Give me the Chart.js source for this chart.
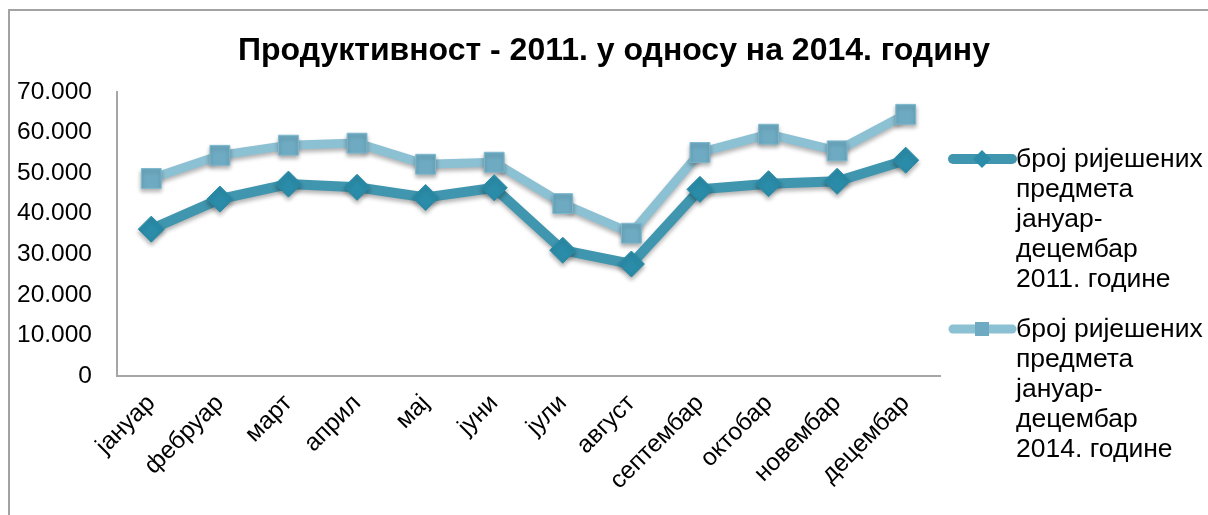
<!DOCTYPE html>
<html>
<head>
<meta charset="utf-8">
<script src="https://cdn.jsdelivr.net/npm/chart.js@4/dist/chart.umd.min.js"></script>
<style>
  html, body { margin: 0; padding: 0; background: #ffffff; }
  #wrap { position: relative; width: 1208px; height: 515px; }
  canvas { display: block; }
</style>
</head>
<body>
<div id="wrap"><canvas id="c" width="1208" height="515"></canvas></div>
<script>
const categories = ['јануар', 'фебруар', 'март', 'април', 'мај', 'јуни', 'јули', 'август', 'септембар', 'октобар', 'новембар', 'децембар'];
const series2011 = [36200, 43600, 47300, 46500, 44000, 46400, 31000, 27600, 46000, 47400, 48000, 53200];
const series2014 = [48700, 54400, 56900, 57400, 52200, 52700, 42500, 35200, 55100, 59600, 55500, 64500];
const legend2011 = ['број ријешених', 'предмета', 'јануар-', 'децембар', '2011. године'];
const legend2014 = ['број ријешених', 'предмета', 'јануар-', 'децембар', '2014. године'];
const titleText = 'Продуктивност - 2011. у односу на 2014. годину';
const yTicks = [0, 10000, 20000, 30000, 40000, 50000, 60000, 70000];

const FONT = "'Liberation Sans', Arial, sans-serif";
const TICK_SIZE = 24.5;
const LEGEND_SIZE = 26.5;

function fmt(v) {
  if (v === 0) return '0';
  return String(v).replace(/\B(?=(\d{3})+(?!\d))/g, '.');
}

const framePlugin = {
  id: 'frame',
  beforeDraw(chart) {
    const ctx = chart.ctx;
    ctx.save();
    ctx.fillStyle = '#ffffff';
    ctx.fillRect(0, 0, chart.width, chart.height);
    ctx.strokeStyle = '#a3a3a3';
    ctx.lineWidth = 2;
    ctx.beginPath();
    ctx.moveTo(9, chart.height);
    ctx.lineTo(9, 10);
    ctx.lineTo(chart.width, 10);
    ctx.stroke();
    ctx.fillStyle = '#000000';
    ctx.font = 'bold 32px ' + FONT;
    ctx.textAlign = 'center';
    ctx.textBaseline = 'alphabetic';
    ctx.fillText(titleText, 614, 60);
    ctx.restore();
  }
};

const shadowPlugin = {
  id: 'shadow',
  beforeDatasetsDraw(chart) {
    const ctx = chart.ctx;
    ctx.save();
    ctx.shadowColor = 'rgba(0,0,0,0.30)';
    ctx.shadowBlur = 4;
    ctx.shadowOffsetX = 0;
    ctx.shadowOffsetY = 3;
  },
  afterDatasetsDraw(chart) {
    chart.ctx.restore();
  }
};

const legendPlugin = {
  id: 'sideLegend',
  afterDraw(chart) {
    const ctx = chart.ctx;
    const entries = [
      { ds: chart.data.datasets[0], lines: legend2011, top: 160 },
      { ds: chart.data.datasets[1], lines: legend2014, top: 330 }
    ];
    ctx.save();
    entries.forEach(e => {
      const y = e.top - 1;
      ctx.strokeStyle = e.ds.borderColor;
      ctx.lineWidth = e.ds.borderWidth;
      ctx.lineCap = 'round';
      ctx.beginPath();
      ctx.moveTo(953, y);
      ctx.lineTo(1012, y);
      ctx.stroke();
      ctx.fillStyle = e.ds.pointBackgroundColor;
      ctx.beginPath();
      if (e.ds.pointStyle === 'rectRot') {
        const r = 9;
        ctx.moveTo(982, y - r); ctx.lineTo(982 + r, y); ctx.lineTo(982, y + r); ctx.lineTo(982 - r, y);
        ctx.closePath();
      } else {
        ctx.rect(982 - 7, y - 7, 14, 14);
      }
      ctx.fill();
      ctx.fillStyle = '#000000';
      ctx.font = LEGEND_SIZE + 'px ' + FONT;
      ctx.textAlign = 'left';
      ctx.textBaseline = 'middle';
      e.lines.forEach((t, i) => ctx.fillText(t, 1016, e.top + i * 30));
    });
    ctx.restore();
  }
};

new Chart(document.getElementById('c'), {
  type: 'line',
  data: {
    labels: categories,
    datasets: [
      {
        label: legend2011.join(' '),
        data: series2011,
        borderColor: '#4096ae',
        borderWidth: 10,
        pointStyle: 'rectRot',
        pointRadius: 13,
        pointHoverRadius: 13,
        pointBackgroundColor: '#2a8ca8',
        pointBorderColor: '#2a8ca8',
        pointBorderWidth: 1,
        tension: 0
      },
      {
        label: legend2014.join(' '),
        data: series2014,
        borderColor: '#8cc0d3',
        borderWidth: 9,
        pointStyle: 'rect',
        pointRadius: 14,
        pointHoverRadius: 14,
        pointBackgroundColor: '#6eabc2',
        pointBorderColor: '#7db9cf',
        pointBorderWidth: 1,
        tension: 0
      }
    ]
  },
  options: {
    responsive: false,
    animation: false,
    layout: { padding: { left: 0, right: 268, top: 92, bottom: 0 } },
    plugins: {
      legend: { display: false },
      tooltip: { enabled: false },
      title: { display: false }
    },
    scales: {
      x: {
        offset: true,
        grid: { display: false, drawTicks: false },
        border: { display: true, color: '#a6a6a6', width: 2 },
        ticks: {
          color: '#000000',
          font: { family: FONT, size: TICK_SIZE },
          minRotation: 45,
          maxRotation: 45,
          padding: 13,
          autoSkip: false
        },
        afterFit(scale) { scale.height = 139; }
      },
      y: {
        min: 0,
        max: 70000,
        grid: { display: false, drawTicks: false },
        border: { display: true, color: '#a6a6a6', width: 2 },
        afterBuildTicks(scale) { scale.ticks = yTicks.map(v => ({ value: v })); },
        ticks: {
          color: '#000000',
          font: { family: FONT, size: TICK_SIZE },
          padding: 25,
          callback: (v) => fmt(v)
        },
        afterFit(scale) { scale.width = 117; }
      }
    }
  },
  plugins: [framePlugin, shadowPlugin, legendPlugin]
});
</script>
</body>
</html>
